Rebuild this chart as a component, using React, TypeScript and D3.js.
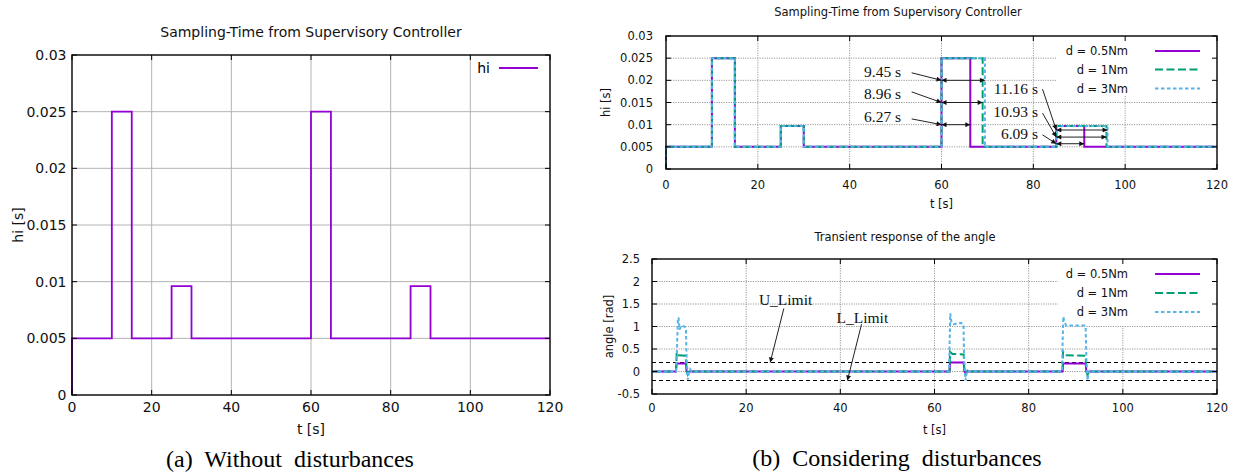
import * as d3 from 'd3';
import React, { useRef, useEffect } from 'react';

// ---- shared axes ----
const tTicks = [0, 20, 40, 60, 80, 100, 120];
const hiTicks = [0, 0.005, 0.01, 0.015, 0.02, 0.025, 0.03];
const angleTicks = [-0.5, 0, 0.5, 1, 1.5, 2, 2.5];

// ---- (a) sampling time without disturbances (step after each time) ----
const hiTimeA = [0, 0, 10, 15, 25, 30, 60, 65, 85, 90, 120];
const hiValA = [0, 0.005, 0.025, 0.005, 0.0096, 0.005, 0.025, 0.005, 0.0096, 0.005, 0.005];

// ---- (b) sampling time with disturbances ----
const seriesNames = ['d = 0.5Nm', 'd = 1Nm', 'd = 3Nm'];
const hiValB = [0, 0.005, 0.025, 0.005, 0.0097, 0.005, 0.025, 0.005, 0.0097, 0.005, 0.005];
const hiTime05 = [0, 0, 10, 15, 25, 30, 60, 66.27, 85, 91.09, 120];
const hiTime1 = [0, 0, 10, 15, 25, 30, 60, 68.96, 85, 95.93, 120];
const hiTime3 = [0, 0, 10, 15, 25, 30, 60, 69.45, 85, 96.16, 120];

// measured spans shown with double arrows
const spanLabels = ['9.45 s', '8.96 s', '6.27 s', '11.16 s', '10.93 s', '6.09 s'];
const spanStart = [60, 60, 60, 85, 85, 85];
const spanEnd = [69.45, 68.96, 66.27, 96.16, 95.93, 91.09];
const spanLevel = [0.02, 0.015, 0.01, 0.0088, 0.0072, 0.0057];

// ---- (b) angle transient response ----
const angleT05 = [0, 5.1, 5.2, 7.2, 7.35, 7.6, 8.0, 63.2, 63.3, 66.2, 66.35, 66.6, 67.0, 87.2, 87.3, 92.1, 92.25, 92.5, 92.9, 120];
const angleV05 = [0, 0, 0.18, 0.18, 0, -0.03, 0, 0, 0.2, 0.2, 0, -0.03, 0, 0, 0.18, 0.18, 0, -0.03, 0, 0];
const angleT1 = [0, 5.1, 5.25, 5.5, 7.2, 7.35, 7.6, 8.0, 8.4, 63.2, 63.3, 63.8, 66.2, 66.35, 66.6, 67.0, 67.4, 87.2, 87.3, 87.8, 92.1, 92.25, 92.5, 92.9, 93.3, 120];
const angleV1 = [0, 0, 0.42, 0.36, 0.35, 0, -0.07, 0.02, 0, 0, 0.44, 0.39, 0.38, 0, -0.08, 0.02, 0, 0, 0.44, 0.36, 0.35, 0, -0.08, 0.02, 0, 0];
const angleT3 = [0, 5.1, 5.3, 5.5, 5.65, 5.85, 6.2, 6.9, 7.2, 7.35, 7.6, 7.8, 8.1, 8.4,
  63.1, 63.2, 63.35, 63.6, 64.0, 65.6, 66.15, 66.3, 66.6, 66.8, 67.1, 67.4,
  87.1, 87.2, 87.35, 87.6, 88.0, 91.9, 92.1, 92.25, 92.5, 92.7, 93.0, 93.3, 120];
const angleV3 = [0, 0, 0.5, 1.15, 1.2, 0.93, 1.02, 1.0, 0.95, 0.3, -0.18, -0.05, 0.05, 0,
  0, 0.6, 1.29, 1.1, 1.05, 1.08, 1.05, 0.3, -0.2, -0.05, 0.03, 0,
  0, 0.6, 1.22, 1.1, 1.02, 1.02, 0.98, 0.3, -0.2, -0.05, 0.04, 0, 0];
const limitNames = ['U_Limit', 'L_Limit'];
const limitValues = [0.2, -0.2];

const colors = ['#9400d3', '#009e73', '#56b4e9'];
const dashes = [null, '8 3.5', '3.5 2.5'];

const SANS = 'DejaVu Sans, Verdana, sans-serif';
const SERIF = 'Liberation Serif, Times New Roman, serif';

const frame = (g, x, y, xTicks, yTicks, o) => {
  const [x0, x1] = x.range();
  const [y0, y1] = y.range();
  const grid = g.append('g').attr('stroke', o.grid).attr('stroke-width', 1)
    .attr('stroke-dasharray', o.gridDash);
  xTicks.filter((t) => x(t) > x0 + 1 && x(t) < x1 - 1).forEach((t) => {
    grid.append('line').attr('x1', x(t)).attr('x2', x(t)).attr('y1', y0).attr('y2', y1);
  });
  yTicks.filter((v) => y(v) < y0 - 1 && y(v) > y1 + 1).forEach((v) => {
    grid.append('line').attr('x1', x0).attr('x2', x1).attr('y1', y(v)).attr('y2', y(v));
  });
};

const border = (g, x, y, xTicks, yTicks, o) => {
  const [x0, x1] = x.range();
  const [y0, y1] = y.range();
  const tk = g.append('g').attr('stroke', '#000').attr('stroke-width', 1);
  xTicks.forEach((t) => {
    tk.append('line').attr('x1', x(t)).attr('x2', x(t)).attr('y1', y0).attr('y2', y0 - 5);
    tk.append('line').attr('x1', x(t)).attr('x2', x(t)).attr('y1', y1).attr('y2', y1 + 5);
  });
  yTicks.forEach((v) => {
    tk.append('line').attr('x1', x0).attr('x2', x0 + 5).attr('y1', y(v)).attr('y2', y(v));
    tk.append('line').attr('x1', x1).attr('x2', x1 - 5).attr('y1', y(v)).attr('y2', y(v));
  });
  g.append('rect').attr('x', x0).attr('y', y1).attr('width', x1 - x0).attr('height', y0 - y1)
    .attr('fill', 'none').attr('stroke', '#000').attr('stroke-width', 1.4);
  const lab = g.append('g').attr('font-family', SANS).attr('font-size', o.font).attr('fill', '#111')
    .style('white-space', 'pre');
  xTicks.forEach((t) => {
    lab.append('text').attr('x', x(t)).attr('y', y0 + o.xGap).attr('text-anchor', 'middle').text(String(t));
  });
  yTicks.forEach((v) => {
    lab.append('text').attr('x', x0 - o.yGap).attr('y', y(v)).attr('dy', '0.36em')
      .attr('text-anchor', 'end').text(String(v));
  });
  lab.append('text').attr('x', (x0 + x1) / 2).attr('y', o.xLabelY).attr('text-anchor', 'middle').text(o.xLabel);
  lab.append('text').attr('transform', `translate(${o.yLabelX},${(y0 + y1) / 2}) rotate(-90)`)
    .attr('text-anchor', 'middle').attr('dy', '0.35em').text(o.yLabel);
  lab.append('text').attr('x', o.titleX).attr('y', o.titleY).attr('text-anchor', 'middle').text(o.title);
};

const App = () => {
  const ref = useRef(null);

  const draw = () => {
    const svg = d3.select(ref.current);
    svg.selectAll('*').remove();
    svg.append('defs').append('marker')
      .attr('id', 'head').attr('viewBox', '0 0 10 10').attr('refX', 10).attr('refY', 5)
      .attr('markerWidth', 7).attr('markerHeight', 5).attr('markerUnits', 'userSpaceOnUse')
      .attr('orient', 'auto-start-reverse')
      .append('path').attr('d', 'M0,0 L10,5 L0,10 z').attr('fill', '#111');

    const stepLine = (x, y) => d3.line().curve(d3.curveStepAfter).x((d) => x(d[0])).y((d) => y(d[1]));
    const zip = (ts, vs) => ts.map((t, i) => [t, vs[i]]);

    // ----- (a) -----
    const xA = d3.scaleLinear().domain([0, 120]).range([72, 550]);
    const yA = d3.scaleLinear().domain([0, 0.03]).range([395, 55]);
    const gA = svg.append('g');
    frame(gA, xA, yA, tTicks, hiTicks, { grid: '#b4b4b4', gridDash: null });
    gA.append('path').attr('d', stepLine(xA, yA)(zip(hiTimeA, hiValA)))
      .attr('fill', 'none').attr('stroke', colors[0]).attr('stroke-width', 1.8);
    border(gA, xA, yA, tTicks, hiTicks, {
      font: 14, xGap: 17, yGap: 5.5, xLabel: 't [s]', xLabelY: 434, yLabel: 'hi  [s]', yLabelX: 18,
      title: 'Sampling-Time from Supervisory Controller', titleX: 311, titleY: 37,
    });
    gA.append('text').attr('x', 490).attr('y', 73).attr('text-anchor', 'end')
      .attr('font-family', SANS).attr('font-size', 14).text('hi');
    gA.append('line').attr('x1', 499).attr('x2', 538).attr('y1', 68).attr('y2', 68)
      .attr('stroke', colors[0]).attr('stroke-width', 1.8);
    gA.append('text').attr('x', 290).attr('y', 467).attr('text-anchor', 'middle').style('white-space', 'pre')
      .attr('font-family', SERIF).attr('font-size', 24).text('(a)  Without  disturbances');

    // ----- (b) top -----
    const xB = d3.scaleLinear().domain([0, 120]).range([666, 1217]);
    const yB = d3.scaleLinear().domain([0, 0.03]).range([169, 36]);
    const gB = svg.append('g');
    frame(gB, xB, yB, tTicks, hiTicks, { grid: '#9a9a9a', gridDash: '1.2 1.2' });
    gB.append('rect').attr('x', 1057).attr('y', 36).attr('width', 160).attr('height', 60).attr('fill', '#fff');
    [hiTime05, hiTime1, hiTime3].forEach((ts, i) => {
      gB.append('path').attr('d', stepLine(xB, yB)(zip(ts, hiValB)))
        .attr('fill', 'none').attr('stroke', colors[i]).attr('stroke-width', 2)
        .attr('stroke-dasharray', dashes[i]);
    });
    border(gB, xB, yB, tTicks, hiTicks, {
      font: 11.5, xGap: 20, yGap: 13, xLabel: 't [s]', xLabelY: 208, yLabel: 'hi [s]', yLabelX: 606,
      title: 'Sampling-Time from Supervisory Controller', titleX: 898, titleY: 16,
    });

    // span arrows and their labels
    const labT = [51.2, 51.2, 51.2, 81.0, 81.0, 81.0];
    const labV = [0.0207, 0.0159, 0.0107, 0.0169, 0.0118, 0.0067];
    const ptrFrom = [[53.5, 0.0217], [53.5, 0.0174], [53.5, 0.0113], [82.0, 0.018], [82.0, 0.0126], [82.0, 0.0077]];
    const ann = gB.append('g').attr('stroke', '#222').attr('stroke-width', 1);
    spanLabels.forEach((s, i) => {
      ann.append('line')
        .attr('x1', xB(spanStart[i])).attr('x2', xB(spanEnd[i]))
        .attr('y1', yB(spanLevel[i])).attr('y2', yB(spanLevel[i]))
        .attr('marker-start', 'url(#head)').attr('marker-end', 'url(#head)');
      ann.append('line')
        .attr('x1', xB(ptrFrom[i][0])).attr('y1', yB(ptrFrom[i][1]))
        .attr('x2', xB(spanStart[i])).attr('y2', yB(spanLevel[i]))
        .attr('marker-end', 'url(#head)');
      gB.append('text').attr('x', xB(labT[i])).attr('y', yB(labV[i])).attr('text-anchor', 'end')
        .attr('font-family', SERIF).attr('font-size', 15.5).attr('fill', '#111').text(s);
    });

    const legend = (g, rows) => {
      seriesNames.forEach((n, i) => {
        g.append('text').attr('x', 1128).attr('y', rows[i]).attr('dy', '0.36em').attr('text-anchor', 'end')
          .attr('font-family', SANS).attr('font-size', 11.5).attr('fill', '#111').text(n);
        g.append('line').attr('x1', 1155).attr('x2', 1200).attr('y1', rows[i]).attr('y2', rows[i])
          .attr('stroke', colors[i]).attr('stroke-width', 2).attr('stroke-dasharray', dashes[i]);
      });
    };
    legend(gB, [51, 69.5, 88.5]);

    // ----- (b) bottom -----
    const xC = d3.scaleLinear().domain([0, 120]).range([652, 1217]);
    const yC = d3.scaleLinear().domain([-0.5, 2.5]).range([394, 259]);
    const gC = svg.append('g');
    frame(gC, xC, yC, tTicks, angleTicks, { grid: '#9a9a9a', gridDash: '1.2 1.2' });
    gC.append('rect').attr('x', 1058).attr('y', 259).attr('width', 159).attr('height', 67).attr('fill', '#fff');
    limitValues.forEach((v) => {
      gC.append('line').attr('x1', xC(0)).attr('x2', xC(120)).attr('y1', yC(v)).attr('y2', yC(v))
        .attr('stroke', '#000').attr('stroke-width', 1).attr('stroke-dasharray', '4 3');
    });
    const lineC = d3.line().x((d) => xC(d[0])).y((d) => yC(d[1]));
    [[angleT05, angleV05], [angleT1, angleV1], [angleT3, angleV3]].forEach(([ts, vs], i) => {
      gC.append('path').attr('d', lineC(zip(ts, vs)))
        .attr('fill', 'none').attr('stroke', colors[i]).attr('stroke-width', 2)
        .attr('stroke-dasharray', dashes[i]);
    });
    border(gC, xC, yC, tTicks, angleTicks, {
      font: 11.5, xGap: 18, yGap: 12, xLabel: 't [s]', xLabelY: 434, yLabel: 'angle [rad]', yLabelX: 609,
      title: 'Transient response of the angle', titleX: 905, titleY: 241,
    });
    legend(gC, [274, 293, 312]);

    const limLabT = [22.7, 39.2];
    const limLabV = [1.48, 1.08];
    const limFrom = [[28.0, 1.4], [44.5, 1.05]];
    const limTo = [25.1, 41.5];
    limitNames.forEach((n, i) => {
      gC.append('text').attr('x', xC(limLabT[i])).attr('y', yC(limLabV[i]))
        .attr('font-family', SERIF).attr('font-size', 15.5).attr('fill', '#111').text(n);
      gC.append('line').attr('x1', xC(limFrom[i][0])).attr('y1', yC(limFrom[i][1]))
        .attr('x2', xC(limTo[i])).attr('y2', yC(limitValues[i]))
        .attr('stroke', '#222').attr('stroke-width', 1).attr('marker-end', 'url(#head)');
    });

    svg.append('text').attr('x', 897).attr('y', 466).attr('text-anchor', 'middle').style('white-space', 'pre')
      .attr('font-family', SERIF).attr('font-size', 24).text('(b)  Considering  disturbances');
  };

  useEffect(() => {
    draw();
  }, []);

  return (
    <div style={{ position: 'absolute', left: 0, top: 0, background: '#fff' }}>
      <svg ref={ref} width={1233} height={474} />
    </div>
  );
};

export default App;
